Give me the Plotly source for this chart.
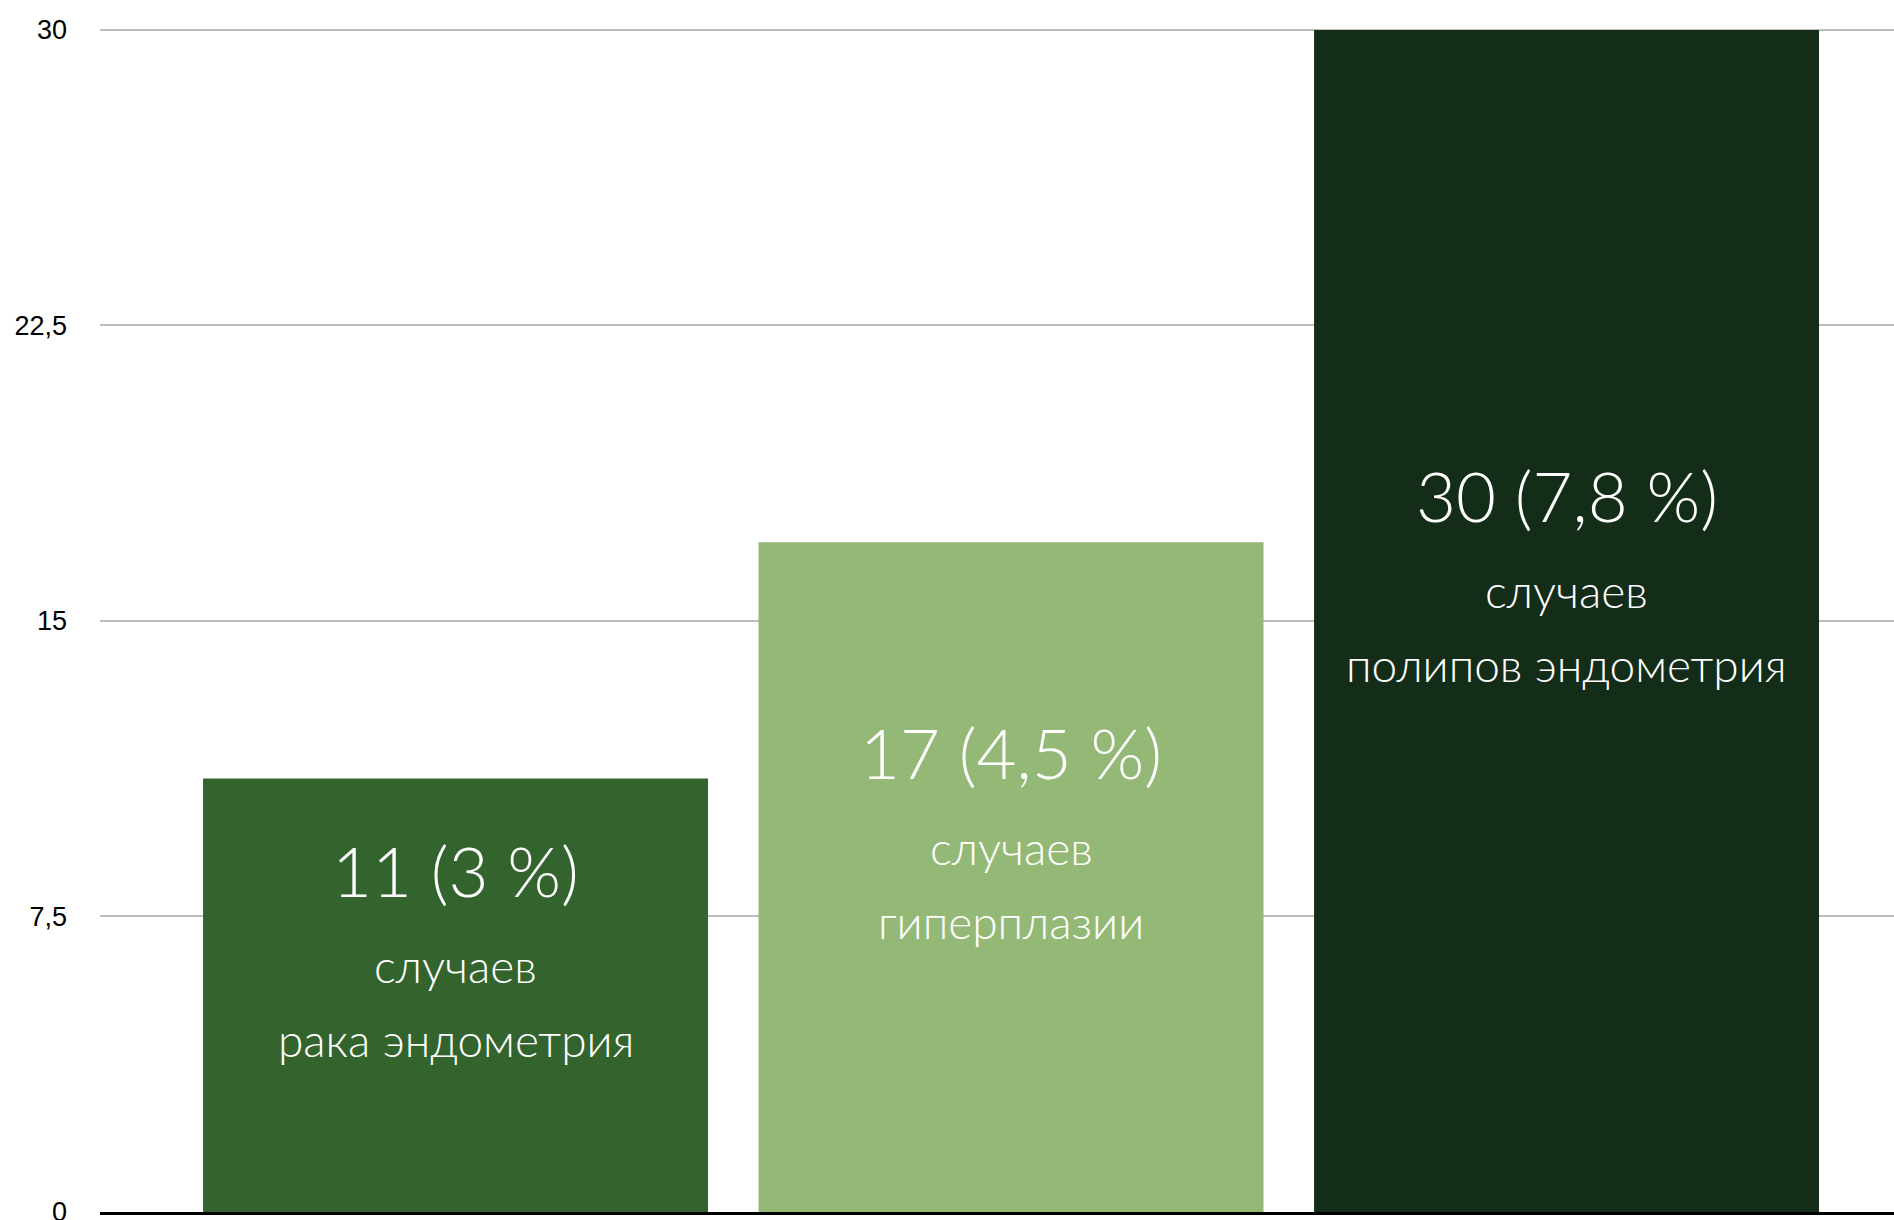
import plotly.graph_objects as go

categories = ["Рак эндометрия", "Гиперплазия", "Полипы эндометрия"]
values = [11, 17, 30]
headline = ["11 (3 %)", "17 (4,5 %)", "30 (7,8 %)"]
line2 = ["случаев", "случаев", "случаев"]
line3 = ["рака эндометрия", "гиперплазии", "полипов эндометрия"]
colors = ["#34642D", "#94B976", "#132D18"]
tick_vals = [0, 7.5, 15, 22.5, 30]
tick_text = ["0", "7,5", "15", "22,5", "30"]

fig = go.Figure()
fig.add_trace(go.Bar(
    x=categories, y=values,
    marker=dict(color=colors, line=dict(width=0)),
    hoverinfo="skip",
))

label_font = "Lato"
for cat, v, h, l2, l3 in zip(categories, values, headline, line2, line3):
    for txt, size, shift in [(h, 69, 125), (l2, 46, 30), (l3, 46, -44)]:
        fig.add_annotation(
            x=cat, y=v / 2, text=txt, showarrow=False,
            xanchor="center", yanchor="middle", yshift=shift,
            font=dict(family=label_font, size=size, color="white", weight=300),
        )

fig.update_layout(
    width=1894, height=1220,
    margin=dict(l=100, r=0, t=28, b=8),
    paper_bgcolor="white", plot_bgcolor="white",
    bargap=0.091, showlegend=False,
)
fig.update_xaxes(
    type="category", range=[-0.64, 2.5895], showticklabels=False,
    showgrid=False, showline=True, linecolor="black", linewidth=3,
    ticks="", zeroline=False,
)
fig.update_yaxes(
    range=[0, 30.05], tickvals=tick_vals, ticktext=tick_text,
    showgrid=True, gridcolor="#BDBDBD", gridwidth=2,
    zeroline=False, showline=False, ticks="",
    ticklabelstandoff=32, automargin=False, ticklabeloverflow="allow",
    tickfont=dict(family="Liberation Sans, Arial", size=27, color="black"),
)

fig.write_html(
    "out.html",
    config={"displayModeBar": False},
    post_script="document.body.style.margin='0';document.body.style.overflow='hidden';",
)
